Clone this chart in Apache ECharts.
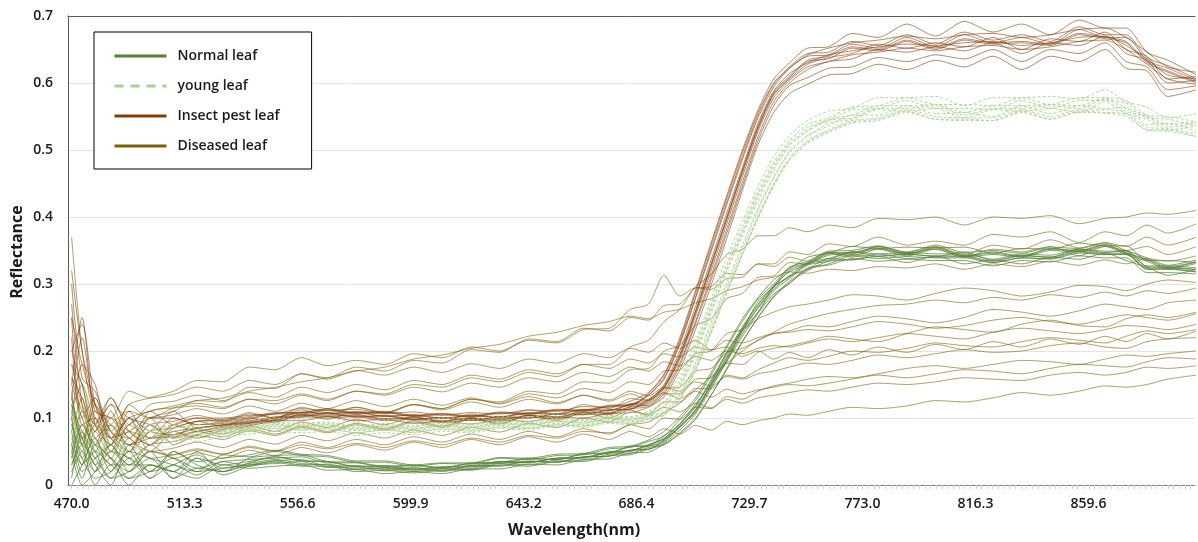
<!DOCTYPE html>
<html>
<head>
<meta charset="utf-8">
<script src="https://cdn.jsdelivr.net/npm/echarts@6/dist/echarts.min.js"></script>
<style>html,body{margin:0;padding:0;background:#fff}#c{width:1198px;height:542px}</style>
</head>
<body>
<div id="c"></div>
<script>
// Wavelength sample points (nm)
const W = [470,474,479,485,492,500,509,518,528,538,548,558,568,579,590,601,612,623,634,645,656,666,676,684,691,697,703,709,715,721,727,733,739,745,752,760,769,779,790,801,812,823,834,845,856,866,874,882,890,901];
// Reflectance values in thousandths, one row per measured leaf
const NORMAL = [
[120,60,20,40,10,30,20,40,30,35, 42,36,35,28,29,24,27,29,35,34, 40,41,48,50,58,64,88,108,150,186, 230,258,296,310,330,336,348,342,345,341, 348,335,343,340,352,347,350,326,325,322],
[40,90,50,10,40,20,50,30,20,40, 44,45,35,34,28,30,26,33,34,40, 38,47,48,58,59,74,90,121,152,199, 232,274,296,324,331,347,346,356,345,355, 342,348,342,353,350,359,347,337,326,333],
[0,30,70,20,50,10,30,15,35,28, 34,28,28,20,22,18,22,22,30,28, 35,35,44,45,54,60,78,100,134,172, 214,250,280,302,320,334,336,341,332,342, 330,336,330,340,337,346,335,325,313,322],
[80,20,40,60,20,40,10,25,20,30, 36,38,28,29,23,26,22,29,29,36, 34,42,43,52,53,66,86,112,150,190, 232,264,292,312,322,338,336,345,338,340, 341,332,339,338,348,344,345,322,323,318],
[20,50,0,30,30,50,40,20,45,42, 50,44,42,34,34,28,32,31,40,38, 44,45,54,56,65,73,98,126,164,205, 244,278,300,325,334,349,350,357,347,358, 347,350,346,355,353,361,350,339,328,336],
[130,70,30,0,60,20,30,45,25,32, 38,32,30,23,25,20,24,23,32,30, 37,37,46,47,56,61,76,98,134,174, 214,250,282,304,322,330,342,338,341,339, 339,332,339,337,346,344,344,322,322,318],
[60,10,60,40,0,30,20,10,30,25, 28,30,22,23,17,20,17,24,24,31, 30,38,39,48,49,62,82,106,144,184, 222,256,285,300,324,328,338,334,337,335, 335,327,335,333,342,339,339,317,317,315],
[10,80,30,50,40,10,50,35,40,45, 52,46,44,36,36,30,33,33,41,40, 46,47,56,58,67,80,102,130,168,208, 248,280,306,322,340,346,356,353,355,354, 355,346,353,352,361,357,357,335,335,332],
[90,40,10,20,50,40,30,20,25,30, 32,35,26,27,21,24,20,28,28,35, 34,42,43,52,53,67,86,110,147,186, 226,258,290,308,328,334,344,341,344,342, 342,334,342,340,349,346,346,324,324,321],
[30,60,40,10,20,50,10,40,15,28, 36,30,31,24,26,22,25,25,34,33, 40,40,49,51,60,70,92,118,157,197, 236,270,298,318,329,343,345,352,342,352, 340,344,340,350,348,356,344,334,322,331],
[100,30,50,30,10,20,40,25,35,38, 40,42,33,33,26,29,25,32,32,39, 38,46,47,57,58,68,87,112,150,190, 230,265,295,320,331,345,347,354,344,354, 342,346,341,352,349,358,346,336,324,333],
[50,0,20,60,30,30,20,50,20,33, 42,36,35,27,28,23,27,27,35,34, 40,41,50,51,60,69,90,116,155,194, 234,268,296,312,332,338,348,345,347,345, 345,337,345,343,352,349,349,327,327,324]
];
const YOUNG = [
[90,60,40,70,50,80,70,75,80,82, 87,84,86,81,84,81,86,83,89,86, 92,90,96,94,102,108,134,178,236,296, 352,410,458,496,520,540,546,560,558,562, 548,560,558,562,556,572,554,546,530,536],
[130,80,100,60,90,70,90,85,88,90, 94,92,94,88,92,89,94,91,97,95, 100,98,104,102,110,124,156,208,270,330, 386,438,482,514,538,548,564,566,578,568, 568,566,578,568,578,578,574,552,550,542],
[50,100,60,90,40,60,80,65,72,76, 80,78,80,74,78,75,80,78,84,82, 88,86,92,90,98,104,128,170,226,286, 344,398,446,484,510,526,540,544,556,546, 544,544,556,546,556,555,550,530,528,520],
[70,40,90,50,80,100,60,78,82,85, 90,88,90,84,88,85,90,87,93,91, 96,94,100,98,106,118,148,198,260,320, 376,430,474,508,530,546,552,566,566,568, 556,566,566,568,566,578,562,552,538,542],
[110,70,30,80,60,50,75,70,76,80, 85,82,84,78,82,79,84,81,87,85, 90,88,94,92,100,106,130,174,230,290, 346,402,450,488,514,530,544,548,560,550, 548,548,560,550,560,560,556,534,532,524],
[60,120,70,40,70,90,85,90,94,96, 100,98,100,94,98,95,100,97,103,101, 106,104,110,108,116,130,162,214,278,340, 394,446,490,522,544,558,562,578,578,580, 566,578,578,580,576,590,572,564,548,554],
[100,50,80,100,50,70,65,72,78,80, 84,82,84,78,82,78,83,80,86,84, 90,88,94,92,99,104,128,172,228,288, 344,400,448,486,512,528,542,546,558,546, 546,544,558,546,558,556,554,530,530,520],
[40,90,50,70,100,60,80,82,86,88, 92,90,92,86,90,87,92,89,95,93, 98,96,102,100,108,122,152,202,266,326, 380,434,478,510,534,544,560,562,574,562, 562,560,574,562,574,574,570,548,546,536],
[80,110,60,50,70,80,90,80,84,86, 90,88,90,84,88,84,89,86,92,90, 95,93,99,97,104,116,146,194,256,318, 372,424,470,506,528,544,548,562,562,566, 552,562,562,566,562,576,558,550,534,540],
[120,60,90,80,40,90,70,76,80,84, 88,86,88,82,86,83,88,85,91,89, 94,92,98,96,103,110,136,182,242,302, 358,414,460,498,522,536,552,552,566,554, 556,550,566,554,566,562,564,538,540,528]
];
const INSECT = [
[320,200,120,80,60,70,80,85,90,95, 102,103,108,102,104,98,101,97,102,100, 106,105,112,113,128,146,194,258,328,398, 468,534,584,608,632,636,652,648,662,650, 664,658,660,656,672,666,660,630,616,600],
[150,250,90,60,100,60,90,80,88,92, 96,104,102,104,98,100,95,99,97,103, 101,108,107,116,120,140,182,244,312,382, 452,520,572,600,620,632,636,650,646,654, 648,660,644,660,656,670,644,634,600,604],
[270,120,60,110,50,90,70,95,96,100, 107,108,113,107,109,103,106,102,108,106, 112,111,118,119,136,164,216,286,358,428, 496,556,600,624,644,646,662,656,672,658, 676,664,672,662,684,672,672,638,626,606],
[100,180,150,70,80,100,60,75,84,90, 94,102,100,102,96,98,93,97,95,101, 99,106,105,114,117,136,178,240,306,376, 446,514,566,596,608,622,624,638,632,642, 636,650,632,650,644,660,632,624,590,596],
[220,90,100,50,110,70,100,90,94,98, 106,106,112,106,108,102,105,101,107,105, 111,110,117,118,134,158,210,278,348,418, 486,548,594,622,640,642,658,652,668,654, 672,660,668,658,680,668,668,634,622,604],
[180,150,70,90,60,80,110,85,90,94, 98,108,106,108,102,104,99,103,101,107, 105,112,111,120,124,146,190,256,326,396, 466,532,582,606,628,638,644,658,652,660, 654,668,650,666,662,676,650,640,606,610],
[130,220,110,100,70,50,80,70,82,88, 96,96,102,96,98,92,95,91,97,95, 101,100,107,108,116,132,172,232,298,368, 440,508,556,584,598,612,614,628,620,634, 624,640,620,640,632,650,622,618,580,590],
[250,100,130,60,90,110,90,100,100,104, 106,114,111,113,107,109,104,108,106,112, 110,117,116,125,138,166,220,290,362,432, 500,560,606,630,652,654,674,668,688,670, 692,676,688,672,694,682,682,646,634,612],
[160,130,80,120,100,90,70,80,86,92, 100,101,107,101,103,97,100,96,102,100, 106,105,112,113,126,150,200,266,336,406, 474,540,588,614,630,642,648,654,658,656, 660,662,656,660,668,670,656,636,612,606],
[300,160,140,80,50,100,100,90,92,96, 100,109,107,109,103,105,100,104,102,108, 106,113,112,121,127,148,194,260,330,400, 470,536,586,610,634,640,654,650,664,652, 666,660,662,658,674,668,662,632,618,602],
[110,70,90,130,80,60,85,95,98,102, 108,108,114,108,110,104,107,103,109,107, 113,112,119,120,134,160,212,280,352,422, 490,552,598,622,642,652,660,664,670,666, 672,674,668,672,680,682,668,646,624,616],
[200,240,120,70,100,80,75,85,89,93, 97,105,103,105,99,101,96,100,98,104, 102,109,108,117,122,144,188,252,320,390, 460,528,578,604,624,632,642,646,652,648, 654,656,650,654,662,664,650,628,606,598]
];
const DISEASED = [
[150,100,60,90,110,100,115,122,116,128, 126,136,128,140,136,150,146,160,154,168, 162,180,180,206,216,244,262,296,314,344, 352,372,372,384,378,388,384,398,396,400, 388,400,398,402,390,398,400,406,404,410],
[370,200,100,80,120,130,140,156,154,176, 172,190,178,186,180,196,190,206,200,216, 212,232,234,262,270,313,282,294,292,308, 310,330,330,348,344,360,356,370,358,364, 358,374,370,378,362,378,372,388,376,390],
[90,60,120,70,50,80,85,95,88,100, 94,106,98,110,106,120,114,128,124,140, 136,154,152,172,174,200,208,238,248,278, 286,310,312,332,330,346,340,352,346,352, 340,352,348,356,342,356,350,356,344,356],
[200,150,90,120,70,100,110,126,124,146, 144,166,160,176,170,186,182,202,198,218, 214,234,230,250,246,268,270,294,296,316, 314,330,326,340,334,348,342,356,348,356, 344,358,352,366,354,362,356,370,358,370],
[120,80,50,100,80,60,90,100,94,106, 100,116,108,116,108,120,114,128,122,136, 130,144,138,154,150,170,172,196,200,226, 232,248,258,266,270,276,284,282,276,286, 294,290,282,288,298,296,290,300,306,302],
[60,110,70,40,90,70,75,84,76,88, 80,94,86,98,90,102,94,106,99,112, 106,120,114,129,126,144,146,170,174,198, 204,216,226,230,238,236,244,252,248,242, 250,262,258,252,260,270,266,262,272,276],
[100,50,90,70,40,60,65,74,68,81, 74,86,78,90,82,94,86,98,91,104, 98,112,106,121,118,136,136,158,160,182, 180,198,204,208,214,222,218,214,226,236, 232,228,240,246,238,236,248,254,250,258],
[180,120,80,130,90,120,125,134,126,138, 131,146,138,150,142,156,150,164,158,172, 166,180,174,188,182,196,191,206,201,216, 212,220,226,228,232,230,236,244,240,234, 238,246,250,244,240,248,254,250,246,256],
[80,130,40,60,100,50,55,64,56,68, 61,74,66,78,70,82,74,86,79,92, 86,100,94,109,106,124,124,144,144,164, 160,172,182,190,186,192,200,198,204,212, 208,206,214,220,216,212,222,230,226,232],
[130,70,110,90,60,90,95,104,96,108, 100,112,104,116,108,120,112,124,116,128, 121,134,127,140,133,146,140,154,148,162, 158,166,170,176,182,180,186,194,190,196, 202,198,200,208,212,206,204,214,218,220],
[50,90,60,30,70,40,45,54,46,58, 51,64,56,68,60,72,64,76,68,80, 72,84,76,90,84,100,98,116,114,132, 128,140,148,152,158,162,160,166,174,178, 174,180,186,184,180,188,194,192,196,200],
[110,150,90,60,120,100,105,114,106,118, 110,122,114,126,117,128,119,130,121,132, 123,134,125,136,127,138,129,140,131,143, 136,142,146,150,148,152,158,164,160,166, 172,170,166,174,180,178,176,184,190,188],
[70,40,100,50,80,70,72,80,72,84, 76,88,80,92,84,96,88,100,92,104, 96,108,100,112,104,116,109,122,115,128, 122,130,134,138,142,140,146,152,150,154, 160,158,156,164,168,164,168,176,174,178],
[250,180,120,100,140,130,135,146,140,156, 150,166,158,171,164,176,168,181,174,188, 182,196,190,204,198,212,204,216,202,206, 192,200,188,198,190,202,194,206,198,210, 202,214,206,218,210,222,214,226,218,230],
[30,70,20,50,30,60,40,48,40,52, 44,56,48,60,52,64,56,68,60,72, 64,76,68,80,72,84,76,89,82,95, 90,96,100,106,104,110,116,114,118,126, 124,130,138,134,140,148,146,150,158,164],
[140,60,130,80,70,110,115,118,114,128, 121,134,126,140,134,146,139,152,146,160, 154,168,162,176,170,184,178,192,186,200, 196,204,208,206,212,218,214,220,226,222, 218,228,234,230,226,232,238,236,232,240],
[160,110,90,70,100,110,118,126,130,140, 146,154,160,170,176,188,194,204,210,222, 228,238,244,252,248,258,262,272,278,290, 296,306,310,318,316,322,320,326,324,330, 322,330,326,334,328,336,330,338,334,342],
[60,30,80,40,20,50,45,52,46,56, 50,60,54,62,56,66,60,70,64,74, 70,80,78,90,94,108,122,142,162,182, 200,216,228,240,248,256,262,268,270,276, 272,280,276,284,280,288,282,290,286,294]
];
const X_LABELS = [470.0, 513.3, 556.6, 599.9, 643.2, 686.4, 729.7, 773.0, 816.3, 859.6];
const NAMES = ['Normal leaf', 'young leaf', 'Insect pest leaf', 'Diseased leaf'];
const COLORS = ['#548235', '#a9d18e', '#843c0c', '#7f6000'];

const xMinor = [];
for (let i = 0; i < 200; i++) { const v = 470 + i * 2.165; if (v <= 900.4) xMinor.push(v); }

function build(rows, idx, dash, op, z) {
  return rows.map(r => ({
    type: 'line', name: NAMES[idx], symbol: 'none', smooth: 0.25, silent: true, z: z,
    data: r.map((v, i) => [W[i], v / 1000]),
    lineStyle: { color: COLORS[idx], width: 1, type: dash, opacity: op },
    itemStyle: { color: COLORS[idx] }
  }));
}
const series = [].concat(
  build(DISEASED, 3, 'solid', 0.6, 2),
  build(INSECT, 2, 'solid', 0.6, 3),
  build(YOUNG, 1, [3, 2], 0.9, 4),
  build(NORMAL, 0, 'solid', 0.75, 5)
);

const font = 'Open Sans';
const chart = echarts.init(document.getElementById('c'), null, { renderer: 'canvas' });
chart.setOption({
  animation: false,
  backgroundColor: '#fff',
  grid: { left: 68, right: 3, top: 16, bottom: 57 },
  legend: {
    orient: 'vertical', left: 94, top: 32,
    padding: [17, 32, 16, 19], itemGap: 16, itemWidth: 52, itemHeight: 14,
    borderColor: '#000', borderWidth: 1, backgroundColor: '#fff',
    textStyle: { fontFamily: font, fontSize: 14, fontWeight: 600, color: '#1a1a1a', padding: [0, 0, 0, 6] },
    selectedMode: false,
    data: NAMES.map((n, i) => ({
      name: n,
      itemStyle: { opacity: 0 },
      lineStyle: { color: COLORS[i], width: 3, opacity: 1, type: i === 1 ? [9, 7] : 'solid' }
    }))
  },
  xAxis: [{
    type: 'value', min: 468.6, max: 900.4,
    axisLine: { show: true, lineStyle: { color: '#888', width: 1 } },
    axisTick: { show: true, customValues: xMinor, length: 4, lineStyle: { color: '#d0d0d0' } },
    axisLabel: { customValues: X_LABELS, formatter: v => v.toFixed(1), margin: 12, fontFamily: font, fontSize: 14, fontWeight: 600, color: '#1a1a1a' },
    splitLine: { show: false }
  }, {
    type: 'value', position: 'top', min: 468.6, max: 900.4,
    axisLine: { show: true, lineStyle: { color: '#595959', width: 1 } },
    axisTick: { show: false }, axisLabel: { show: false }, splitLine: { show: false }
  }],
  yAxis: {
    type: 'value', min: 0, max: 0.7, interval: 0.1,
    axisLine: { show: true, lineStyle: { color: '#595959', width: 1 } },
    axisTick: { show: false },
    axisLabel: { margin: 15, fontFamily: font, fontSize: 14, fontWeight: 600, color: '#1a1a1a' },
    splitLine: { show: true, lineStyle: { color: '#e3e3e3', width: 1 } }
  },
  graphic: [
    { type: 'text', left: 508, top: 522, style: { text: 'Wavelength(nm)', fontFamily: font, fontSize: 16, fontWeight: 'bold', fill: '#1a1a1a' } },
    { type: 'text', x: 17, y: 252, rotation: Math.PI / 2, style: { text: 'Reflectance', fontFamily: font, fontSize: 16, fontWeight: 'bold', fill: '#1a1a1a', align: 'center', verticalAlign: 'middle' } }
  ],
  series: series
});
</script>
</body>
</html>
